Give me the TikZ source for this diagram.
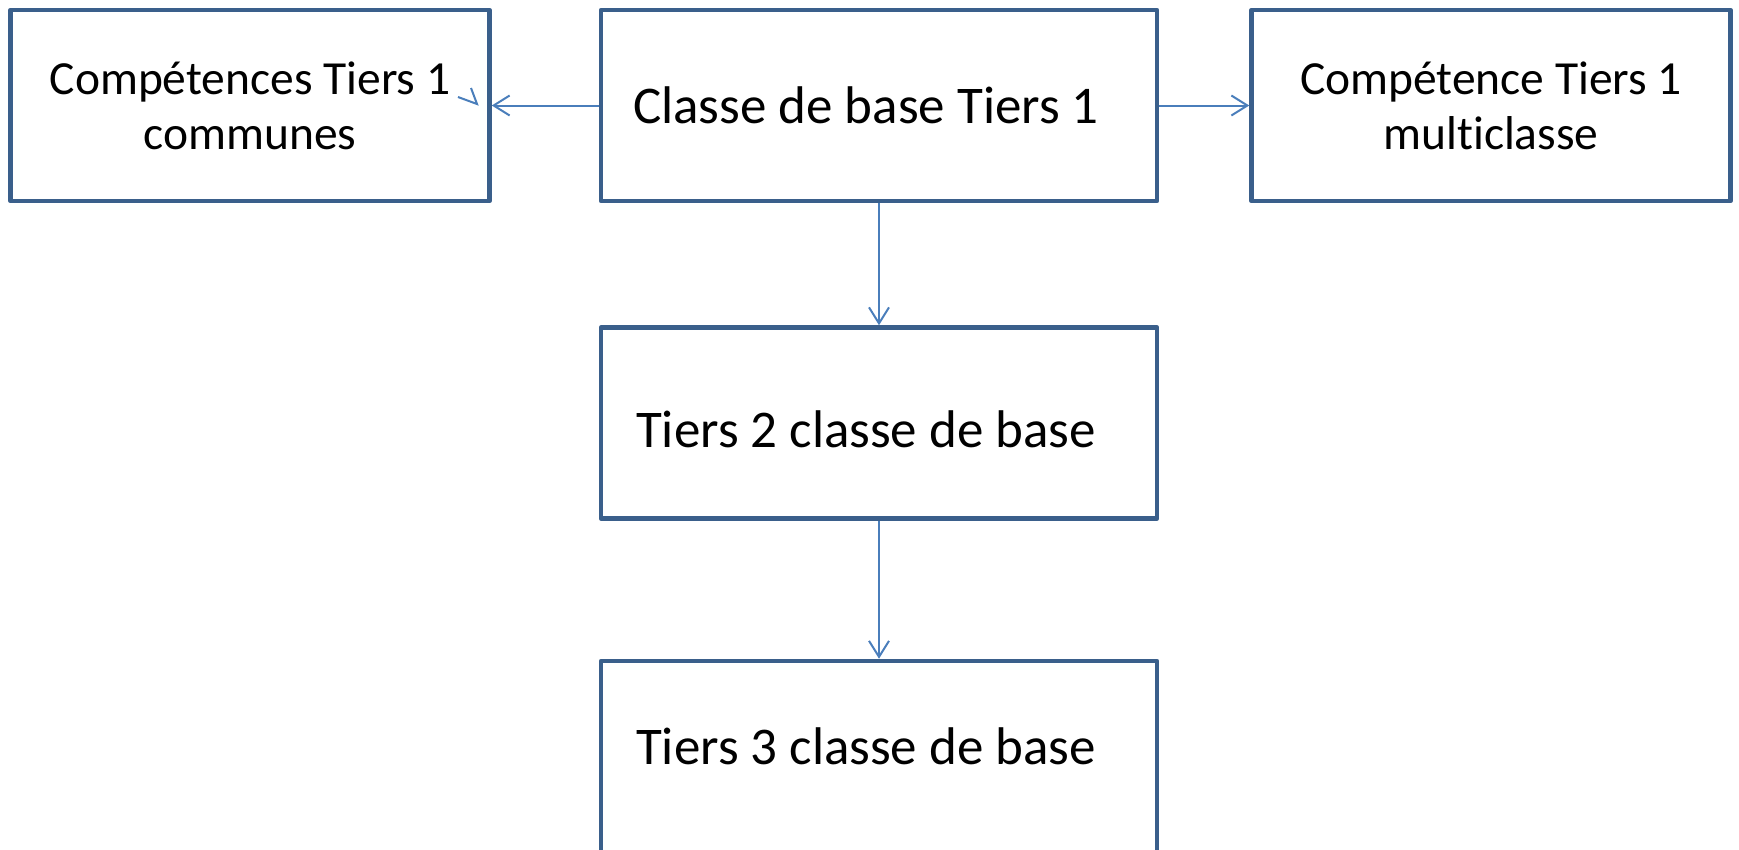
\documentclass[tikz,border=0pt]{standalone}
\usepackage{fontspec}
\setmainfont{Carlito}[RawFeature=-liga]
\usepackage{tikz}
\usetikzlibrary{arrows.meta,positioning}
\definecolor{BoxBlue}{RGB}{58,95,139}
\definecolor{ArrBlue}{RGB}{74,126,187}
\newcommand{\padright}{\hspace*{26pt}}

\begin{document}
\begin{tikzpicture}[x=1pt,y=1pt,
tierbox/.style={draw=BoxBlue,line width=4.5pt,line join=round,minimum width=556pt,minimum height=191pt,align=center,inner sep=0pt,font=\fontsize{53}{64}\selectfont},
sidebox/.style={tierbox,minimum width=479pt,font=\fontsize{47.5}{55}\selectfont},
arr/.style={-{Straight Barb[length=16pt,width=20pt]},line width=2pt,draw=ArrBlue}]
\useasboundingbox (0,0) rectangle (1739,-849);
\node[tierbox] (base1) at (879,-105.5) {Classe de base Tiers 1\padright};
\node[sidebox,left=107pt of base1] (comm) {Compétences Tiers 1\\communes};
\node[sidebox,right=90pt of base1] (multi) {Compétence Tiers 1\\multiclasse};
\node[tierbox,below=122pt of base1,text height=50pt] (base2) {Tiers 2 classe de base\padright};
\node[tierbox,below=138pt of base2,minimum height=195pt,text depth=24pt] (base3) {Tiers 3 classe de base\padright};
\draw[arr] (base1.west)--(comm.east); \draw[arr] (base1.east)--(multi.west);
\draw[arr] (base1)--(base2); \draw[arr] (base2)--(base3);
% stray tick next to the left label
\draw[ArrBlue,line width=2pt] (458,-97)--(477,-104)--(471,-88);
\end{tikzpicture}
\end{document}
